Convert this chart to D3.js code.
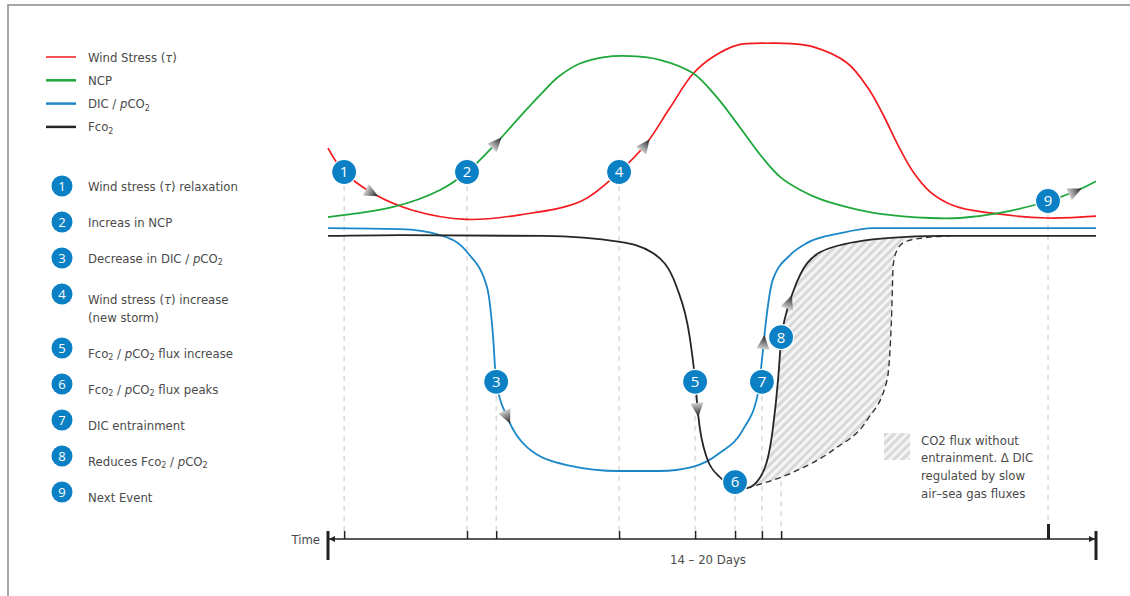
<!DOCTYPE html>
<html>
<head>
<meta charset="utf-8">
<script src="https://cdn.jsdelivr.net/npm/d3@7.9.0/dist/d3.min.js"></script>
<style>
  body { margin: 0; background: #fff; }
  svg { display: block; font-family: "Liberation Sans Narrow", "DejaVu Sans Condensed", sans-serif; }
  text { white-space: pre; }
</style>
</head>
<body>
<div id="chart"></div>
<script>
// time runs 0-100 across the event, levels are relative (0-100)
const windT = [0, 2, 6, 11, 18, 25, 33, 37.9, 41.5, 44.5, 47.5, 50.1, 53.3, 57.6, 60.2, 63.2, 67.6, 70.3, 72.3, 74.2, 76.2, 78.4, 81.6, 86.2, 93.6, 100];
const windV = [76.5, 71.5, 66.5, 63, 61, 62, 65, 71.3, 77.6, 85.2, 92.6, 96.3, 98.9, 99.3, 99.2, 98.5, 95, 89.6, 83.7, 77.2, 71.3, 67, 63.9, 62.4, 61.3, 61.7];

const ncpT = [0, 8.5, 14.6, 18.1, 21.7, 24.6, 27.6, 30, 32.8, 36, 39.5, 43.2, 47.5, 50.4, 53.6, 56.3, 58.9, 61.5, 64.1, 68, 71.9, 78.4, 82.3, 87.5, 93.8, 97.7, 100];
const ncpV = [61.5, 63.7, 67.4, 71.3, 77.2, 82.6, 88, 92, 94.9, 96.3, 96.5, 95.7, 92.8, 88, 81.1, 75, 70.2, 67.4, 65.4, 63.5, 62.2, 61.3, 61.3, 62.4, 65, 67.4, 69.3];

const dicT = [0, 9.4, 14.6, 18.1, 20.7, 21.5, 21.9, 23.4, 25.9, 31.1, 38, 43.2, 47.5, 51, 54, 56, 56.5, 56.9, 57.9, 60.2, 62.4, 66.7, 71, 100];
const dicV = [59.1, 58.9, 57.6, 53.9, 46.3, 35.4, 25.7, 17.8, 11.5, 7.6, 6.3, 6.3, 7.2, 10.2, 15.2, 23.3, 30.4, 37, 47.8, 53.3, 55.9, 58, 59.1, 59.1];

const fcoT = [0, 9.4, 28, 38, 42.3, 45.4, 47.1, 47.8, 48.2, 49.3, 51, 53, 54.5, 56.3, 57.9, 58.6, 59, 59.6, 60.5, 62.4, 65.8, 73.2, 79.7, 100];
const fcoV = [57.4, 57.6, 57.4, 56.1, 53.7, 46.3, 35.4, 26.1, 18.5, 9.3, 5, 3, 2.6, 5, 15.2, 26.1, 34.8, 40.2, 45, 51.5, 55, 57, 57.4, 57.4];

// Fco2 without entrainment (dashed)
const slowT = [54.5, 60.1, 65.8, 70.2, 72.8, 73.4, 73.6, 74.1, 75.1, 77.7, 81];
const slowV = [2.6, 5.7, 10.9, 17.4, 26.1, 40.7, 51.1, 54.3, 56.1, 57, 57.4];

const eventT = [2.1, 18.1, 21.9, 37.9, 47.8, 53, 56.5, 59, 93.75];
const eventV = [71.3, 71.3, 25.7, 71.3, 25.7, 3.9, 25.7, 35.4, 65];
const eventLabels = [
  'Wind stress (*τ*) relaxation',
  'Increas in NCP',
  'Decrease in DIC / *p*CO_2',
  'Wind stress (*τ*) increase\n(new storm)',
  'Fco_2 / *p*CO_2 flux increase',
  'Fco_2 / *p*CO_2 flux peaks',
  'DIC entrainment',
  'Reduces Fco_2 / *p*CO_2',
  'Next Event'
];

const arrowSeries = ['wind', 'ncp', 'wind', 'dic', 'fco', 'dic', 'fco', 'ncp'];
const arrowT = [6.3, 22.4, 41.7, 23.6, 48.2, 56.8, 60.3, 97.9];

const seriesKeys = ['wind', 'ncp', 'dic', 'fco'];
const seriesNames = ['Wind Stress (*τ*)', 'NCP', 'DIC / *p*CO_2', 'Fco_2'];
const seriesColors = ['#f41a1f', '#1ea83c', '#1b87c8', '#262626'];

const hatchNote = ['CO2 flux without', 'entrainment. Δ DIC', 'regulated by slow', 'air–sea gas fluxes'];

const width = 1130, height = 596;
const svg = d3.select('#chart').append('svg').attr('width', width).attr('height', height);

const x = d3.scaleLinear().domain([0, 100]).range([328, 1096]);
const y = d3.scaleLinear().domain([0, 100]).range([500, 40]);
const textColor = '#4a4a4a';
const markBlue = '#0b80c4';
const fs = 13;

// writes "Fco_2 / *p*CO_2" style strings into tspans
function richText(sel, str, size) {
  const parts = str.split(/(_\d|\*[^*]+\*)/).filter((s) => s);
  let shifted = false;
  parts.forEach((s) => {
    const t = sel.append('tspan');
    if (s.startsWith('_')) {
      t.text(s.slice(1)).attr('font-size', size * 0.68).attr('dy', size * 0.22);
      shifted = true;
    } else {
      if (shifted) { t.attr('dy', -size * 0.22); shifted = false; }
      if (s.startsWith('*')) t.text(s.slice(1, -1)).attr('font-style', 'italic');
      else t.text(s);
    }
  });
}

const defs = svg.append('defs');
const pat = defs.append('pattern').attr('id', 'hatch')
  .attr('patternUnits', 'userSpaceOnUse').attr('width', 6).attr('height', 6)
  .attr('patternTransform', 'rotate(45)');
pat.append('rect').attr('width', 6).attr('height', 6).attr('fill', '#f7f7f7');
pat.append('line').attr('x1', 3).attr('x2', 3).attr('y1', 0).attr('y2', 6)
  .attr('stroke', '#d6d6d6').attr('stroke-width', 3);

const grad = defs.append('linearGradient').attr('id', 'arrowGrad');
grad.append('stop').attr('offset', '0%').attr('stop-color', '#cfcfcf');
grad.append('stop').attr('offset', '100%').attr('stop-color', '#1e1e1e');

defs.append('marker').attr('id', 'axArrow').attr('viewBox', '0 0 10 10')
  .attr('refX', 10).attr('refY', 5).attr('markerWidth', 4).attr('markerHeight', 4)
  .attr('orient', 'auto-start-reverse')
  .append('path').attr('d', 'M0,0L10,5L0,10Z').attr('fill', '#222');

// frame
svg.append('path').attr('d', `M8,${height}V5H${width}`)
  .attr('fill', 'none').attr('stroke', '#8a8a8a').attr('stroke-width', 1.5);

// ---- series legend
const sLeg = svg.append('g');
seriesKeys.forEach((k, i) => {
  const yy = 57 + i * 23.3;
  sLeg.append('line').attr('x1', 46).attr('x2', 76).attr('y1', yy).attr('y2', yy)
    .attr('stroke', seriesColors[i]).attr('stroke-width', i === 0 ? 1.5 : 2.5);
  const t = sLeg.append('text').attr('x', 88).attr('y', yy).attr('dy', '0.35em')
    .attr('font-size', fs).attr('fill', textColor);
  richText(t, seriesNames[i], fs);
});

// ---- event legend
const eLeg = svg.append('g');
eventLabels.forEach((lab, i) => {
  const cy = 186 + i * 36 + (i >= 4 ? 18 : 0);
  const ty = cy + (i >= 3 ? 5 : 0);
  eLeg.append('circle').attr('cx', 62).attr('cy', cy).attr('r', 10.5).attr('fill', markBlue);
  eLeg.append('text').attr('x', 62).attr('y', cy).attr('dy', '0.36em')
    .attr('text-anchor', 'middle').attr('fill', '#fff').attr('font-size', 13)
    .attr('font-family', 'Open Sans, sans-serif').text(i + 1);
  lab.split('\n').forEach((line, j) => {
    const t = eLeg.append('text').attr('x', 88).attr('y', ty + j * 18).attr('dy', '0.35em')
      .attr('font-size', fs).attr('fill', textColor);
    richText(t, line, fs);
  });
});

// ---- guides from events down to the time axis
const axisY = 539;
svg.append('g').selectAll('line').data(eventT).join('line')
  .attr('x1', (d) => x(d)).attr('x2', (d) => x(d))
  .attr('y1', (d, i) => y(eventV[i]) + 14)
  .attr('y2', (d, i) => (i === 8 ? 522 : 531))
  .attr('stroke', '#c6c6c6').attr('stroke-width', 1).attr('stroke-dasharray', '5,5');

// ---- hatched area between Fco2 and the no-entrainment curve
const line = d3.line().x((d) => x(d[0])).y((d) => y(d[1])).curve(d3.curveMonotoneX);
const smooth = d3.line().x((d) => x(d[0])).y((d) => y(d[1])).curve(d3.curveCatmullRom.alpha(0.5));
const pts = (T, V) => T.map((t, i) => [t, V[i]]);
const series = {
  wind: pts(windT, windV),
  ncp: pts(ncpT, ncpV),
  dic: pts(dicT, dicV),
  fco: pts(fcoT, fcoV)
};
const slow = pts(slowT, slowV);

defs.append('clipPath').attr('id', 'aboveSlow').append('path')
  .attr('d', line(slow) + `L${x(slowT[slowT.length - 1])},${y(100)}L${x(slowT[0])},${y(100)}Z`);
svg.append('path')
  .attr('d', line(series.fco) + `L${x(100)},${y(-5)}L${x(0)},${y(-5)}Z`)
  .attr('fill', 'url(#hatch)').attr('clip-path', 'url(#aboveSlow)');

// ---- curves
const paths = {};
seriesKeys.forEach((k, i) => {
  const gen = (k === 'wind' || k === 'ncp') ? smooth : line;
  paths[k] = svg.append('path').attr('d', gen(series[k])).attr('fill', 'none')
    .attr('stroke', seriesColors[i]).attr('stroke-width', k === 'wind' ? 1.7 : 1.8);
});
svg.append('path').attr('d', line(slow)).attr('fill', 'none')
  .attr('stroke', '#2b2b2b').attr('stroke-width', 1.3).attr('stroke-dasharray', '6,4');

// ---- direction arrows along curves
function lengthAtX(node, px) {
  let lo = 0, hi = node.getTotalLength();
  for (let i = 0; i < 40; i++) {
    const mid = (lo + hi) / 2;
    if (node.getPointAtLength(mid).x < px) lo = mid; else hi = mid;
  }
  return lo;
}
arrowT.forEach((t, i) => {
  const node = paths[arrowSeries[i]].node();
  const L = lengthAtX(node, x(t));
  const p = node.getPointAtLength(L);
  const q = node.getPointAtLength(L + 2);
  const ang = Math.atan2(q.y - p.y, q.x - p.x) * 180 / Math.PI;
  svg.append('path').attr('d', 'M2,0L-12,-6.5L-12,6.5Z')
    .attr('transform', `translate(${p.x},${p.y}) rotate(${ang})`)
    .attr('fill', 'url(#arrowGrad)');
});

// ---- event markers
const marks = svg.append('g').selectAll('g').data(eventT).join('g')
  .attr('transform', (d, i) => `translate(${x(d)},${y(eventV[i])})`);
marks.append('circle').attr('r', 12.5).attr('fill', markBlue)
  .attr('stroke', '#fff').attr('stroke-width', 1.2);
marks.append('text').attr('text-anchor', 'middle').attr('dy', '0.36em')
  .attr('fill', '#fff').attr('font-size', 15).attr('font-family', 'Open Sans, sans-serif')
  .text((d, i) => i + 1);

// ---- hatch note
svg.append('rect').attr('x', 884).attr('y', 433).attr('width', 26).attr('height', 27)
  .attr('fill', 'url(#hatch)');
svg.append('g').selectAll('text').data(hatchNote).join('text')
  .attr('x', 921).attr('y', (d, i) => 440 + i * 17.7).attr('dy', '0.35em')
  .attr('font-size', fs).attr('fill', textColor).text((d) => d);

// ---- time axis
const axis = d3.axisTop(x).tickValues(eventT).tickSize(8).tickSizeOuter(0).tickFormat('');
const ax = svg.append('g').attr('transform', `translate(0,${axisY})`).call(axis);
ax.select('.domain').remove();
ax.selectAll('.tick line').attr('stroke', '#222').attr('stroke-width', 1.5);
ax.selectAll('.tick').filter((d, i) => i === 8).select('line')
  .attr('y2', -15).attr('stroke-width', 3);
ax.append('line').attr('x1', x(0) + 1).attr('x2', x(100) - 1)
  .attr('stroke', '#222').attr('stroke-width', 1.5)
  .attr('marker-start', 'url(#axArrow)').attr('marker-end', 'url(#axArrow)');
[0, 100].forEach((d) => {
  ax.append('line').attr('x1', x(d)).attr('x2', x(d)).attr('y1', -8).attr('y2', 21)
    .attr('stroke', '#222').attr('stroke-width', 3);
});
svg.append('text').attr('x', 320).attr('y', axisY).attr('dy', '0.35em')
  .attr('text-anchor', 'end').attr('font-size', fs).attr('fill', textColor).text('Time');
svg.append('text').attr('x', 708).attr('y', 559).attr('dy', '0.35em')
  .attr('text-anchor', 'middle').attr('font-size', fs).attr('fill', textColor).text('14 – 20 Days');
</script>
</body>
</html>
